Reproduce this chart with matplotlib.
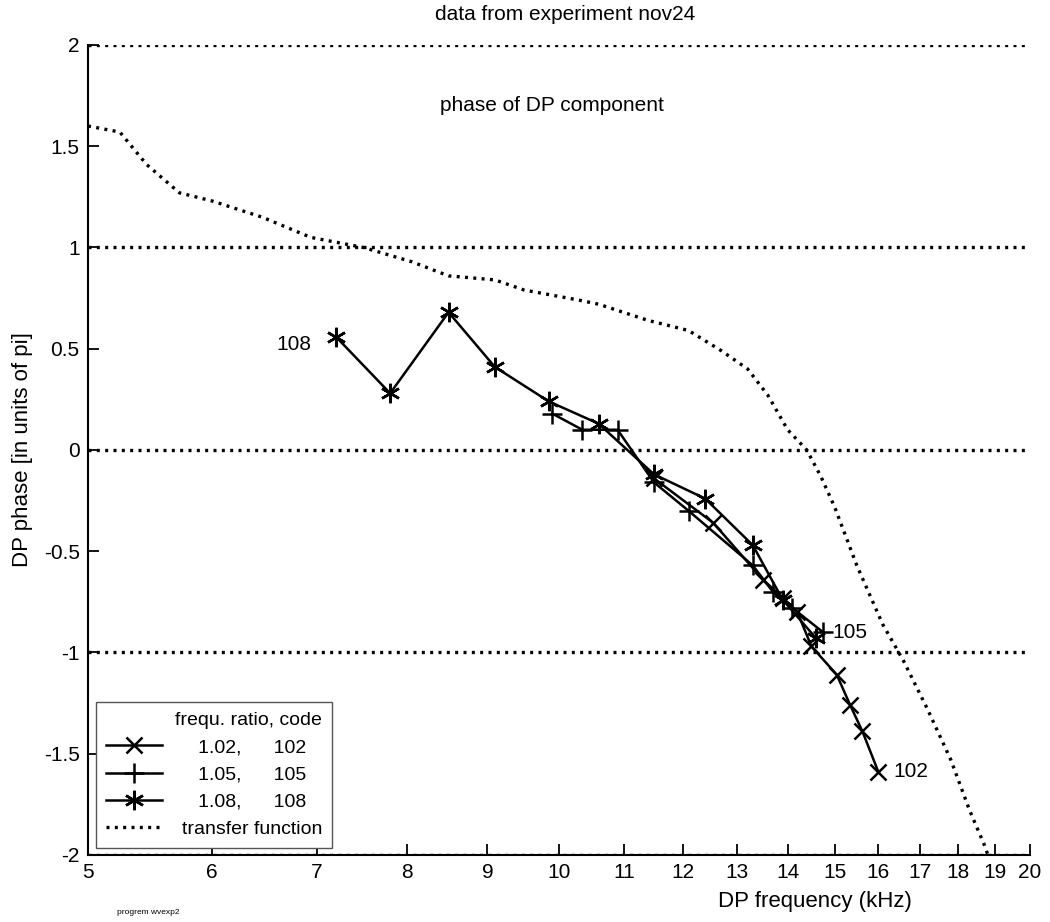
import matplotlib
matplotlib.use("Agg")
import matplotlib.pyplot as plt
from matplotlib.lines import Line2D

plt.rcParams['font.family'] = ['Liberation Sans', 'DejaVu Sans']

# ---- data ----
f108 = [7.2, 7.8, 8.5, 9.1, 9.85, 10.6, 11.5, 12.4, 13.3, 13.9, 14.6]
p108 = [0.56, 0.28, 0.68, 0.41, 0.24, 0.13, -0.12, -0.24, -0.47, -0.74, -0.93]

f105 = [9.9, 10.35, 10.9, 11.5, 12.1, 13.3, 13.7, 14.1, 14.75]
p105 = [0.18, 0.10, 0.10, -0.16, -0.30, -0.57, -0.70, -0.78, -0.90]

f102 = [11.5, 12.55, 13.5, 13.9, 14.2, 14.5, 15.05, 15.35, 15.63, 16.0]
p102 = [-0.14, -0.36, -0.64, -0.73, -0.80, -0.97, -1.11, -1.26, -1.39, -1.59]

ftf = [5.0, 5.24, 5.45, 5.72, 6.0, 6.46, 6.94, 7.5, 8.05, 8.5, 9.1, 9.5, 10.3,
       10.6, 11.4, 12.1, 12.7, 13.2, 13.6, 14.0, 14.4, 14.7, 15.0, 15.5, 16.1,
       16.6, 17.2, 17.8, 18.3, 18.7, 18.8]
ptf = [1.60, 1.57, 1.41, 1.27, 1.23, 1.15, 1.05, 1.00, 0.93, 0.86, 0.84, 0.79, 0.74,
       0.72, 0.64, 0.59, 0.49, 0.40, 0.27, 0.10, 0.0, -0.13, -0.28, -0.57, -0.86,
       -1.04, -1.28, -1.53, -1.78, -1.95, -2.0]

ref_levels = [2, 1, 0, -1, -2]
xticks = list(range(5, 21))
yticks = [2, 1.5, 1, 0.5, 0, -0.5, -1, -1.5, -2]
ytick_labels = ['2', '1.5', '1', '0.5', '0', '-0.5', '-1', '-1.5', '-2']

fig = plt.figure(figsize=(10.5, 9.22), dpi=100)
ax = fig.add_axes([88/1050, 1-855/922, (1030-88)/1050, (855-45)/922])

dot = (0, (0.9, 1.6))
for lv in ref_levels:
    ax.axhline(lv, color='black', lw=2.4, ls=dot, zorder=1)

ax.plot(ftf, ptf, color='black', lw=2.4, ls=dot, zorder=2)

lw = 1.8
ms = 14
ax.plot(f102, p102, color='black', lw=lw, marker='x', ms=ms*0.85, mew=1.8, zorder=3)
ax.plot(f105, p105, color='black', lw=lw, marker='+', ms=ms*1.05, mew=1.8, zorder=3)
ax.plot(f108, p108, color='black', lw=lw, marker=(6, 2, 0), ms=ms, mew=1.8, zorder=3)

ax.set_xscale('log')
ax.set_xlim(5, 20)
ax.set_ylim(-2, 2)
ax.set_xticks(xticks)
ax.set_xticklabels([str(t) for t in xticks])
ax.xaxis.set_minor_locator(matplotlib.ticker.NullLocator())
ax.set_yticks(yticks)
ax.set_yticklabels(ytick_labels)
ax.tick_params(direction='in', length=8, width=1.3, labelsize=15, pad=6)
for s in ['top', 'right']:
    ax.spines[s].set_visible(False)
for s in ['left', 'bottom']:
    ax.spines[s].set_linewidth(1.5)

ax.set_xlabel('DP frequency (kHz)', fontsize=16)
ax.xaxis.set_label_coords((815-88)/942, -0.045)
ax.set_ylabel('DP phase [in units of pi]', fontsize=16, labelpad=8)

fig.text(565/1050, 1-15/922, 'data from experiment nov24', ha='center', va='center', fontsize=15)
ax.text(9.9, 1.70, 'phase of DP component', ha='center', va='center', fontsize=15)

ax.text(6.95, 0.52, '108', ha='right', va='center', fontsize=15)
ax.text(14.95, -0.90, '105', ha='left', va='center', fontsize=15)
ax.text(16.35, -1.59, '102', ha='left', va='center', fontsize=15)

fig.text(148/1050, 1-912/922, 'progrem wvexp2', ha='center', va='center', fontsize=6)

handles = [
    Line2D([], [], color='black', lw=lw, marker='x', ms=ms*0.85, mew=1.8),
    Line2D([], [], color='black', lw=lw, marker='+', ms=ms*1.05, mew=1.8),
    Line2D([], [], color='black', lw=lw, marker=(6, 2, 0), ms=ms, mew=1.8),
    Line2D([], [], color='black', lw=2.4, ls=dot),
]
labels = ['   1.02,      102', '   1.05,      105', '   1.08,      108', 'transfer function']
leg = ax.legend(handles, labels, title='frequ. ratio, code', loc='lower left',
                bbox_to_anchor=(8/942, 7/810), borderaxespad=0, fontsize=14,
                title_fontsize=14, handlelength=2.9, handletextpad=1.0,
                labelspacing=0.5, borderpad=0.5, fancybox=False, framealpha=1,
                edgecolor='#555555')
leg.get_frame().set_linewidth(1.0)
leg._legend_box.align = 'right'

fig.savefig('out.png', dpi=100)
